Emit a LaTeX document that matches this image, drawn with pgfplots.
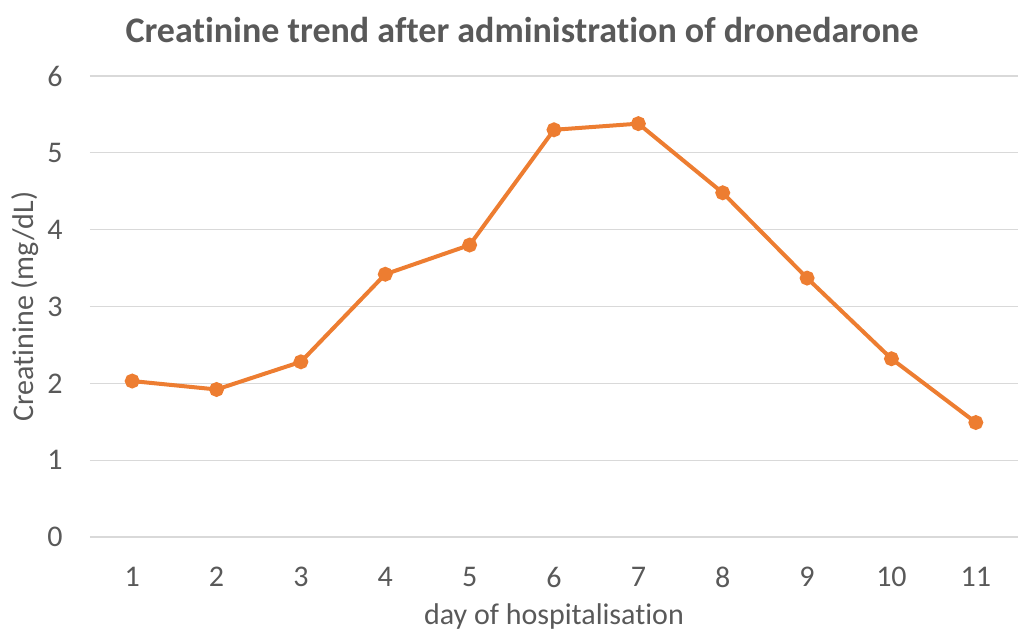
\documentclass[border=0pt]{standalone}
\usepackage{fontspec}
\setmainfont{Carlito}[Ligatures=NoCommon]
\usepackage{pgfplots}
\pgfplotsset{compat=1.18}
\definecolor{txt}{HTML}{595959}
\definecolor{gridc}{HTML}{D9D9D9}
\definecolor{org}{HTML}{ED7D31}
\begin{document}
\begin{tikzpicture}[x=1pt,y=1pt]
\useasboundingbox (-45,-48) rectangle (466.5,268.5);
\begin{axis}[
  at={(0,0)}, anchor=south west,
  scale only axis, width=464pt, height=230.5pt,
  xmin=0.5, xmax=11.5, ymin=0, ymax=6,
  xtick={1,...,11}, ytick={0,...,6},
  axis line style={draw=none}, major tick length=0pt,
  ymajorgrids, grid style={gridc, line width=0.6pt},
  /pgf/number format/assume math mode=true,
  tick label style={font=\fontsize{15}{17}\selectfont, text=txt},
  xticklabel style={anchor=center, yshift=-20pt},
  yticklabel style={anchor=center, xshift=-17.5pt},
  xlabel={day of hospitalisation},
  ylabel={Creatinine (mg/dL)},
  label style={font=\fontsize{15}{17}\selectfont, text=txt},
  xlabel style={at={(axis description cs:0.5,-0.172)}, anchor=center},
  ylabel style={at={(axis description cs:-0.07,0.5)}, anchor=center},
  title={Creatinine trend after administration of dronedarone},
  title style={at={(axis description cs:0.4655,1.0998)}, anchor=center, yshift=-6pt, font=\fontsize{18}{20}\selectfont\bfseries, text=txt},
]
\addplot[org, line width=2pt, mark=*, mark size=2.7pt, mark options={fill=org, draw=org}] coordinates {
(1,2.03) (2,1.92) (3,2.28) (4,3.42) (5,3.80) (6,5.30) (7,5.38) (8,4.48) (9,3.37) (10,2.32) (11,1.49)
};
\end{axis}
\end{tikzpicture}
\end{document}
